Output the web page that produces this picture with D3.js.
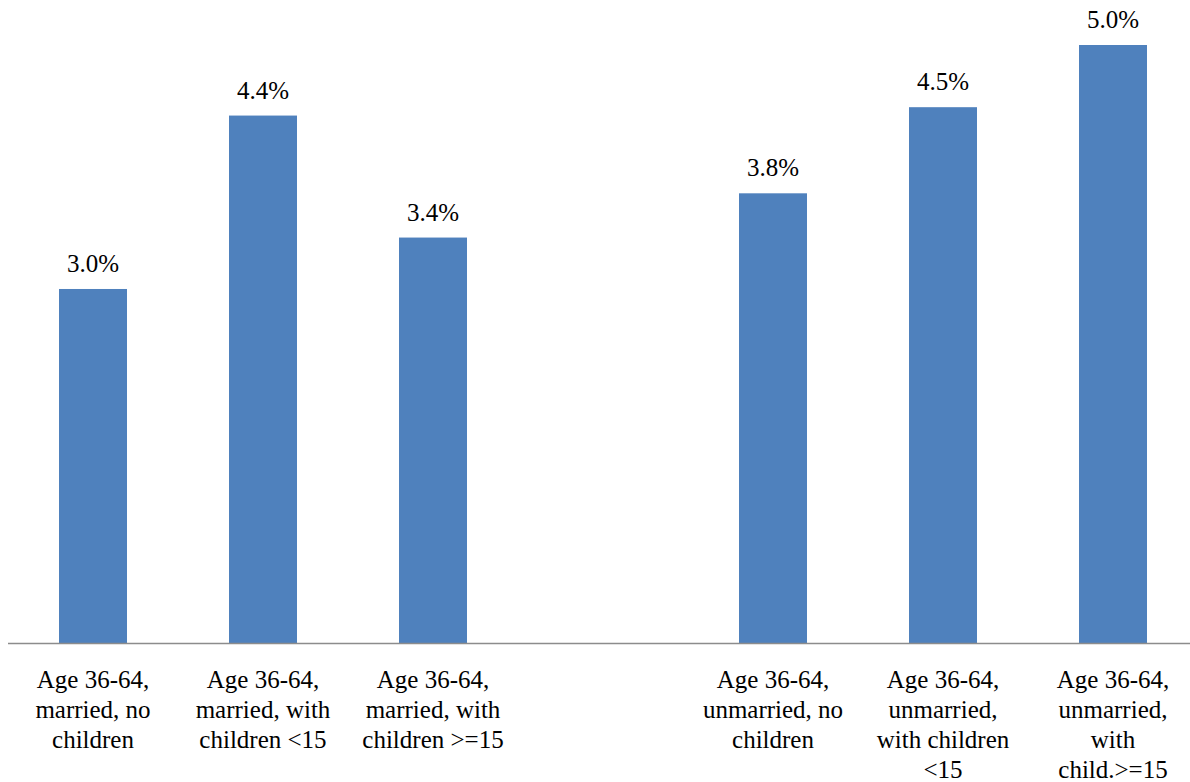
<!DOCTYPE html>
<html>
<head>
<meta charset="utf-8">
<script src="https://cdn.jsdelivr.net/npm/d3@7"></script>
<style>
  html, body { margin: 0; padding: 0; background: #fff; }
  svg { display: block; }
</style>
</head>
<body>
<svg id="chart" width="1190" height="782"></svg>
<script>
// Categories (an empty slot separates the two groups)
const categories = [
  "Age 36-64,\nmarried, no\nchildren",
  "Age 36-64,\nmarried, with\nchildren <15",
  "Age 36-64,\nmarried, with\nchildren >=15",
  "",
  "Age 36-64,\nunmarried, no\nchildren",
  "Age 36-64,\nunmarried,\nwith children\n<15",
  "Age 36-64,\nunmarried,\nwith\nchild.>=15"
];
// Series values (percent)
const values = [2.96, 4.41, 3.39, null, 3.76, 4.48, 5.0];
const yDomain = [0, 5.0];

const FONT = '"Times New Roman", "Liberation Serif", Tinos, serif';

const svg = d3.select("#chart");
const W = 1190;
const x0 = 8, x1 = 1198, baseY = 643, topY = 45;

const x = d3.scaleBand()
  .domain(categories)
  .range([x0, x1])
  .paddingInner(0.6)
  .paddingOuter(0.3);

const y = d3.scaleLinear().domain(yDomain).range([baseY, topY]);

const data = categories.map((c, i) => ({ c, v: values[i] })).filter(d => d.v != null);

// Bars
svg.append("g").selectAll("rect")
  .data(data)
  .join("rect")
  .attr("x", d => x(d.c))
  .attr("y", d => y(d.v))
  .attr("width", x.bandwidth())
  .attr("height", d => y(0) - y(d.v))
  .attr("fill", "#4F81BD");

// Value labels
const fmt = d3.format(".1f");
svg.append("g").selectAll("text")
  .data(data)
  .join("text")
  .attr("x", d => x(d.c) + x.bandwidth() / 2)
  .attr("y", d => y(d.v) - 17)
  .attr("text-anchor", "middle")
  .attr("font-family", FONT)
  .style("font-family", FONT)
  .style("font-size", "25px")
  .style("font-weight", "normal")
  .attr("fill", "#000")
  .text(d => fmt(d.v) + "%");

// X axis line
svg.append("line")
  .attr("x1", x0).attr("x2", W)
  .attr("y1", y(0) + 0.5).attr("y2", y(0) + 0.5)
  .attr("stroke", "#8C8C8C")
  .attr("stroke-width", 1.6);

// Category labels
const lab = svg.append("g").selectAll("text")
  .data(categories.filter(c => c !== ""))
  .join("text")
  .attr("x", d => x(d) + x.bandwidth() / 2)
  .attr("y", baseY + 44.5)
  .attr("text-anchor", "middle")
  .attr("font-family", FONT)
  .style("font-family", FONT)
  .style("font-size", "25px")
  .style("font-weight", "normal")
  .attr("fill", "#000");
lab.each(function(d) {
  const t = d3.select(this);
  d.split("\n").forEach((line, i) => {
    t.append("tspan")
      .attr("x", x(d) + x.bandwidth() / 2)
      .attr("dy", i === 0 ? 0 : 30.3)
      .text(line);
  });
});
</script>
</body>
</html>
